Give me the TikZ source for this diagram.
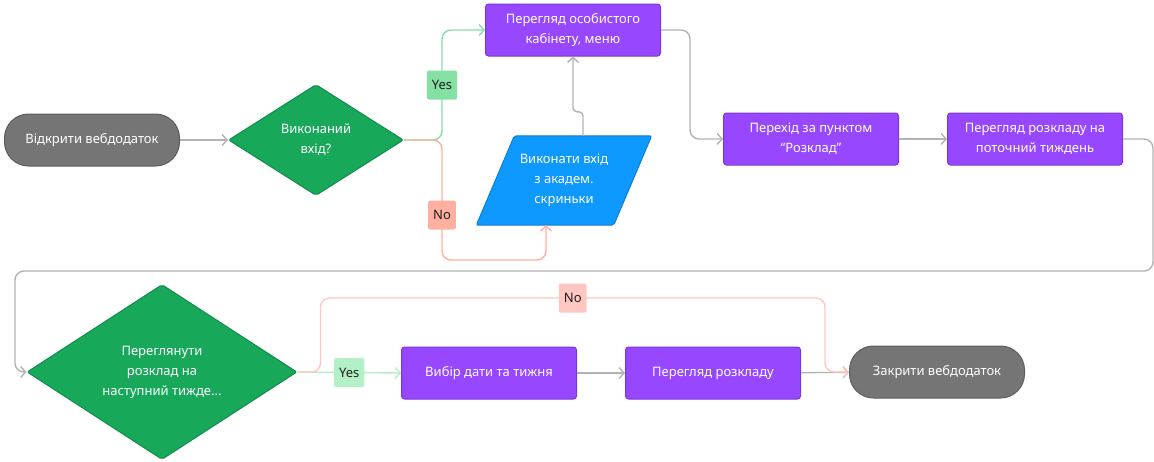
\documentclass[tikz,border=0pt]{standalone}
\usepackage{fontspec}
\setmainfont{Noto Sans}
\usepackage{xcolor}
\usepackage{tikz}
\usetikzlibrary{positioning,arrows.meta,shapes.geometric,backgrounds}

\definecolor{termfill}{HTML}{757575}
\definecolor{termline}{HTML}{5E5E5E}
\definecolor{decfill}{HTML}{17A85A}
\definecolor{decline}{HTML}{0F8C4A}
\definecolor{procfill}{HTML}{9747FF}
\definecolor{procline}{HTML}{7B36D6}
\definecolor{iofill}{HTML}{0D99FF}
\definecolor{ioline}{HTML}{0A7FD6}
\definecolor{yesA}{HTML}{85E0A3}
\definecolor{noA}{HTML}{FFB0A0}
\definecolor{yesB}{HTML}{B3F0C8}
\definecolor{noB}{HTML}{FFC7C2}
\definecolor{flowgray}{HTML}{B3B3B3}
\definecolor{lbltext}{HTML}{1E1E1E}

\newcommand{\boxfont}{\fontsize{13pt}{20pt}\selectfont}

\begin{document}
\begin{tikzpicture}[x=1pt, y=-1pt,
    term/.style={draw=termline, fill=termfill, line width=1pt, rounded corners=24pt,
                 minimum width=175pt, minimum height=52pt, text=white, font=\boxfont},
    proc/.style={draw=procline, fill=procfill, line width=1pt, rounded corners=3pt,
                 minimum width=175pt, minimum height=52pt, text=white, align=center,
                 font=\boxfont},
    dec/.style={diamond, draw=decline, fill=decfill, line width=1pt, rounded corners=2pt,
                inner sep=0pt, text=white, align=center, font=\boxfont},
    lbl/.style={rounded corners=2pt, minimum height=29pt, inner xsep=5pt,
                text=lbltext, font=\boxfont},
    flow/.style={draw=flowgray, line width=1.4pt, rounded corners=9pt, ->},
    >={Straight Barb[length=5pt,width=11pt]}
]
\useasboundingbox (0,0) rectangle (1154,461);

\node[term] (start) at (92,140) {Відкрити вебдодаток};
\node[dec, minimum width=175pt, minimum height=111pt] (login) at (316,140) {Виконаний\\вхід?};
\node[proc] (cab) at (573,30) {Перегляд особистого\\кабінету, меню};
\node[minimum width=175pt, minimum height=89pt, text=white, align=center,
      font=\boxfont] (enter) at (564,180.5) {Виконати вхід\\з академ.\\скриньки};
\begin{scope}[on background layer]
\draw[draw=ioline, fill=iofill, line width=1pt, rounded corners=2pt]
    ([xshift=38pt]enter.north west) -- (enter.north east)
    -- ([xshift=-38pt]enter.south east) -- (enter.south west) -- cycle;
\end{scope}
\node[proc] (menu) at (811,139) {Перехід за пунктом\\“Розклад”};
\node[proc] (cur) at (1035,139) {Перегляд розкладу на\\поточний тиждень};

\node[dec, minimum width=270pt, minimum height=175pt] (next) at (162,372)
    {Переглянути\\розклад на\\наступний тижде...};
\node[proc] (pick) at (489,373) {Вибір дати та тижня};
\node[proc] (view) at (713,373) {Перегляд розкладу};
\node[term] (close) at (937,372) {Закрити вебдодаток};

\draw[flow] (start) -- (login);
\draw[flow, draw=yesA] (login.east) -- ++(38,0)
    |- node[lbl, fill=yesA, pos=0.25] {Yes} (cab.west);
\draw[flow, draw=noA] (login.east) -- ++(38,0)
    -- node[lbl, fill=noA, pos=0.625] {No} ++(0,120) -| ([xshift=-18pt]enter.south);
\draw[flow, rounded corners=4pt] ([xshift=19pt]enter.north) -- ++(0,-24) -| (cab.south);
\draw[flow] (cab.east) -- ++(29,0) |- (menu.west);
\draw[flow] (menu) -- (cur);
\draw[flow] (cur.east) -- ++(30,0) |- (15,271) |- (next.west);

\draw[flow, draw=yesB] (next.east) -- node[lbl, fill=yesB] {Yes} (pick.west);
\draw[flow] (pick) -- (view);
\draw[flow] (view) -- (close);
\draw[flow, draw=noB] (next.east) -- ++(23,0)
    |- node[lbl, fill=noB, pos=0.75] {No} (825,298) |- (close.west);
\end{tikzpicture}
\end{document}
